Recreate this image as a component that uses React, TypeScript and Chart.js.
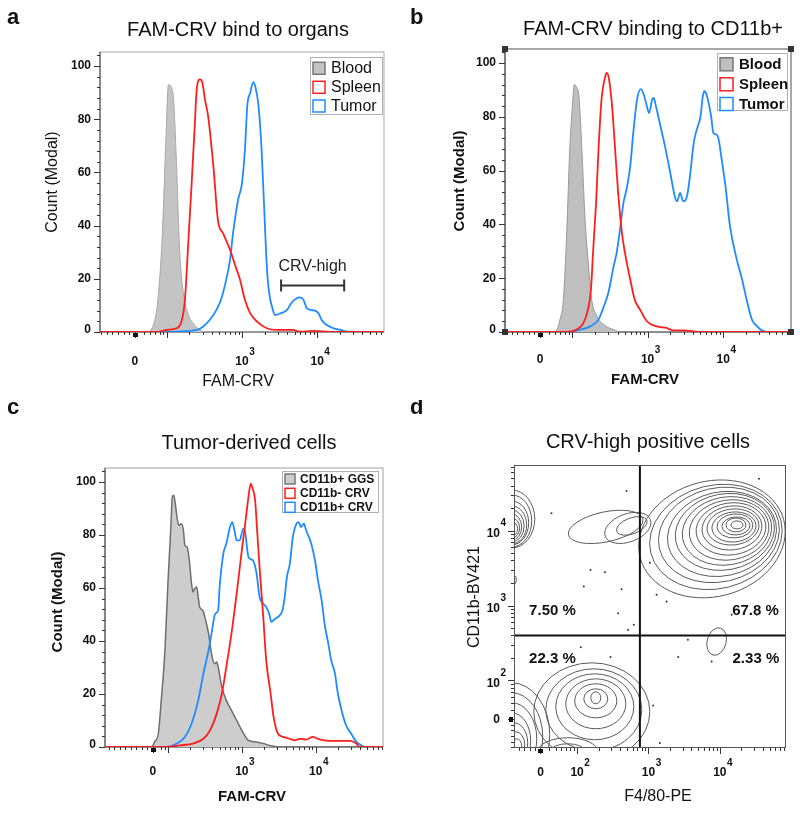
import React, { useEffect, useRef } from 'react';
import { Chart, registerables } from 'chart.js';

Chart.register(...registerables);

const FONT = '"Liberation Sans", Arial, Helvetica, sans-serif';
const RED = '#ff1e1e';
const BLUE = '#1e8cff';

// ---------------- Panel a: FAM-CRV bind to organs ----------------
const aBloodX = [1.11, 1.73, 1.82, 1.88, 1.94, 1.99, 2.02, 2.06, 2.09, 2.13, 2.17, 2.22, 2.28, 2.35, 2.44, 2.53, 4.89];
const aBloodY = [0, 0, 2.6, 12, 37, 75, 93, 92, 87, 62, 31, 14.6, 7, 3.3, 0.8, 0, 0];
const aSpleenX = [1.11, 1.88, 2.0, 2.13, 2.2, 2.24, 2.28, 2.33, 2.37, 2.4, 2.44, 2.47, 2.51, 2.55, 2.62, 2.68, 2.75, 2.84, 2.91, 2.97, 3.04, 3.11, 3.2, 3.33, 3.46, 3.68, 3.77, 3.95, 4.22, 4.89];
const aSpleenY = [0, 0, 0.8, 1.4, 4.5, 12, 31, 56, 77, 92, 95, 94, 87, 81, 62, 42, 37, 31, 25, 20, 12, 7, 3.9, 1.4, 0.8, 0.8, 0.1, 0.4, 0, 0];
const aTumorX = [1.11, 1.91, 2.4, 2.48, 2.57, 2.66, 2.73, 2.8, 2.84, 2.88, 2.92, 2.95, 3.0, 3.04, 3.07, 3.11, 3.15, 3.18, 3.22, 3.26, 3.29, 3.33, 3.36, 3.4, 3.44, 3.51, 3.6, 3.66, 3.73, 3.77, 3.82, 3.86, 3.91, 3.97, 4.02, 4.06, 4.13, 4.22, 4.31, 4.4, 4.89];
const aTumorY = [0, 0, 0.8, 2, 4.5, 8.3, 13, 21, 27, 37, 45, 50, 56, 69, 85, 90, 94, 92, 85, 69, 50, 25, 15, 9.5, 6.4, 7, 8.3, 11, 12.7, 13, 12, 9, 8.3, 8, 7, 4.5, 2.6, 1.4, 0.8, 0.1, 0];
const aGateRange = [3.52, 4.36];
const aGateCount = 17.5;
const aGateLabel = 'CRV-high';
const aGateLabelCount = 24.6;

// ---------------- Panel b: FAM-CRV binding to CD11b+ ----------------
const bBloodX = [1.113, 1.775, 1.84, 1.885, 1.93, 1.97, 2.01, 2.03, 2.06, 2.09, 2.13, 2.17, 2.22, 2.26, 2.33, 2.42, 2.55, 2.64, 4.897];
const bBloodY = [0, 0, 4.6, 12, 37, 68, 86, 92, 91, 88, 68, 43, 24, 12, 5.8, 2.7, 0.9, 0, 0];
const bSpleenX = [1.113, 1.93, 2.06, 2.15, 2.21, 2.25, 2.28, 2.32, 2.35, 2.39, 2.44, 2.46, 2.49, 2.53, 2.57, 2.61, 2.66, 2.7, 2.77, 2.83, 2.9, 2.99, 3.12, 3.25, 3.34, 3.47, 3.61, 3.7, 4.897];
const bSpleenY = [0, 0, 0.9, 3.3, 8.3, 15.7, 30.6, 49.2, 67.8, 86.4, 95, 96.3, 93.8, 83.9, 67.8, 51.7, 36.8, 29.4, 19.5, 12, 8.3, 4, 2.1, 1.5, 0.6, 0.6, 0.25, 0, 0];
const bTumorX = [1.113, 1.93, 2.11, 2.24, 2.35, 2.42, 2.48, 2.55, 2.59, 2.64, 2.68, 2.72, 2.77, 2.81, 2.86, 2.91, 2.95, 2.99, 3.02, 3.06, 3.08, 3.11, 3.17, 3.23, 3.3, 3.36, 3.39, 3.43, 3.47, 3.52, 3.56, 3.61, 3.65, 3.7, 3.73, 3.75, 3.78, 3.84, 3.87, 3.91, 3.94, 3.98, 4.03, 4.09, 4.18, 4.25, 4.31, 4.38, 4.45, 4.51, 4.58, 4.897];
const bTumorY = [0, 0, 0.9, 2.1, 4.6, 9.5, 14.5, 24.4, 29.4, 39.3, 48, 52.9, 61.6, 74, 86.4, 90.3, 88.2, 83.9, 81.4, 86.4, 87, 83.9, 76.5, 69, 59.1, 50.4, 48.6, 51.7, 48.6, 50.4, 57.9, 70.3, 75.2, 80.2, 87.6, 89.5, 88.2, 80.2, 74, 73.4, 71.5, 64.1, 54.2, 39.3, 26.9, 19.5, 12, 4.6, 2.1, 0.6, 0, 0];

// ---------------- Panel c: Tumor-derived cells ----------------
const cGgsX = [1.149, 1.78, 1.82, 1.87, 1.91, 1.96, 2.0, 2.04, 2.06, 2.08, 2.1, 2.13, 2.15, 2.18, 2.21, 2.23, 2.26, 2.29, 2.32, 2.34, 2.36, 2.39, 2.41, 2.43, 2.47, 2.5, 2.55, 2.59, 2.63, 2.66, 2.68, 2.73, 2.79, 2.86, 2.93, 3.0, 3.09, 3.2, 3.29, 3.38, 3.51, 4.91];
const cGgsY = [0, 0, 1.9, 5, 17.6, 36.5, 61.6, 83, 94.3, 95, 91.8, 85.5, 83.6, 84.3, 81.8, 76.1, 75.5, 70.4, 61.6, 58.5, 59.7, 60.4, 56.6, 52.8, 51.6, 49.1, 42.8, 35.2, 31.4, 32.1, 30.2, 22.6, 17.6, 13.8, 10.1, 6.3, 2.5, 1.9, 1.3, 0.6, 0, 0];
const cNegX = [1.149, 1.98, 2.16, 2.34, 2.48, 2.57, 2.66, 2.73, 2.79, 2.86, 2.93, 3.0, 3.04, 3.09, 3.12, 3.14, 3.18, 3.21, 3.24, 3.29, 3.33, 3.39, 3.43, 3.49, 3.56, 3.65, 3.72, 3.78, 3.87, 3.96, 4.03, 4.12, 4.23, 4.46, 4.55, 4.59, 4.91];
const cNegY = [0, 0, 0.6, 1.3, 3.1, 6.3, 12.6, 20.1, 30.2, 42.8, 57.9, 74.2, 83, 94.3, 99.4, 98.1, 93.1, 80.5, 67.9, 49.1, 32.7, 20.1, 11.3, 5, 3.8, 3.1, 2.5, 3.1, 2.8, 3.8, 3.1, 2.5, 2.3, 2.3, 1.3, 0, 0];
const cPosX = [1.149, 1.98, 2.12, 2.23, 2.32, 2.41, 2.48, 2.55, 2.59, 2.64, 2.68, 2.7, 2.75, 2.79, 2.84, 2.87, 2.9, 2.93, 2.97, 3.02, 3.04, 3.09, 3.15, 3.2, 3.24, 3.29, 3.33, 3.37, 3.4, 3.45, 3.49, 3.55, 3.58, 3.61, 3.65, 3.69, 3.74, 3.77, 3.8, 3.84, 3.87, 3.94, 3.99, 4.03, 4.08, 4.12, 4.17, 4.21, 4.26, 4.3, 4.35, 4.41, 4.48, 4.55, 4.62, 4.66, 4.91];
const cPosY = [0, 0, 1.3, 3.8, 8.8, 17.6, 27.7, 36.5, 42.8, 50.3, 51.6, 60.4, 73, 76.7, 83, 84.9, 81.8, 78, 78, 82.4, 81.8, 71.7, 70.4, 65.4, 56.6, 54.1, 52.8, 50.3, 47.2, 48.4, 49.1, 51.6, 56.6, 64.2, 69.2, 79.2, 84.3, 84.9, 83, 84.3, 81.8, 76.7, 70.4, 62.9, 55.3, 46.5, 39, 32.7, 27.7, 20.1, 13.8, 8.2, 5, 1.9, 0.6, 0, 0];

// ---------------- shared tick labels ----------------
const countTicks = [0, 20, 40, 60, 80, 100];
const histDecades = [3, 4];
const dDecades = [2, 3, 4];

// ---------------- Panel d: CRV-high positive cells ----------------
// contour rings: [centre F4/80, centre CD11b, radius F4/80, radius CD11b, tilt deg]
type Ring = [number, number, number, number, number];
const dMainRings: Ring[] = [
  [3.89, 3.89, 1.04, 0.77, -15], [3.945, 3.916, 0.94, 0.69, -14], [3.987, 3.943, 0.856, 0.627, -13],
  [4.03, 3.956, 0.771, 0.56, -12], [4.07, 3.983, 0.7, 0.507, -11], [4.1, 3.996, 0.631, 0.453, -10],
  [4.13, 4.009, 0.561, 0.4, -9], [4.156, 4.023, 0.491, 0.347, -8], [4.17, 4.036, 0.421, 0.293, -7],
  [4.184, 4.049, 0.365, 0.24, -6], [4.198, 4.049, 0.309, 0.2, -5], [4.212, 4.063, 0.252, 0.16, -4],
  [4.226, 4.063, 0.196, 0.12, -3], [4.226, 4.076, 0.14, 0.093, 0], [4.24, 4.076, 0.084, 0.053, 0],
];
const dTailRings: Ring[] = [
  [2.4, 4.05, 0.533, 0.2, -12], [2.711, 4.036, 0.337, 0.187, -20], [2.767, 4.063, 0.224, 0.107, -20],
];
const dUpperLeftRings: Ring[] = [
  [1.084, 4.156, 0.323, 0.387, 0], [1.084, 4.129, 0.28, 0.347, 0], [1.084, 4.103, 0.238, 0.293, 0],
  [1.084, 4.076, 0.21, 0.253, 0], [1.084, 4.063, 0.175, 0.213, 0], [1.084, 4.049, 0.14, 0.173, 0],
  [1.084, 4.036, 0.112, 0.133, 0], [1.084, 4.023, 0.084, 0.093, 0], [1.098, 3.343, 0.05, 0.07, 0],
];
const dLowerRightRings: Ring[] = [[3.955, 2.52, 0.133, 0.187, 15]];
const dLowerLeftRings: Ring[] = [
  [2.206, 1.583, 0.813, 0.653, 0], [2.234, 1.609, 0.673, 0.547, 0], [2.248, 1.649, 0.547, 0.44, 0],
  [2.262, 1.689, 0.421, 0.333, 0], [2.262, 1.729, 0.295, 0.227, 0], [2.262, 1.756, 0.168, 0.133, 0],
  [2.262, 1.769, 0.07, 0.08, 0],
  [1.084, 1.276, 0.533, 0.693, 0], [1.084, 1.249, 0.435, 0.587, 0], [1.084, 1.223, 0.351, 0.48, 0],
  [1.084, 1.196, 0.266, 0.373, 0], [1.112, 1.169, 0.196, 0.267, 0], [1.14, 1.143, 0.126, 0.173, 0],
  [1.154, 1.129, 0.07, 0.093, 0],
  [1.87, 1.049, 0.42, 0.187, 0], [1.87, 1.049, 0.25, 0.107, 0],
];
const dDotsX = [2.693, 1.641, 2.188, 2.389, 2.094, 2.623, 2.575, 2.715, 2.795, 3.02, 3.114, 3.254, 4.166, 4.516, 4.548, 3.553, 2.052, 2.468, 3.417, 3.885, 3.066, 3.16];
const dDotsY = [4.529, 4.232, 3.476, 3.445, 3.253, 3.219, 2.899, 2.676, 2.743, 3.573, 3.143, 3.053, 2.876, 2.876, 4.693, 2.543, 2.445, 2.312, 2.312, 2.253, 1.667, 1.165];
const dGateX = 2.88;
const dGateY = 2.6;
const dQuadLabels = ['7.50 %', '67.8 %', '22.3 %', '2.33 %'];
const dQuadX = [1.655, 4.5, 1.655, 4.505];
const dQuadY = [2.933, 2.933, 2.285, 2.285];

// ---------------- helpers ----------------
const zip = (xs: number[], ys: number[]) => xs.map((x, i) => ({ x, y: ys[i] }));

function seg(ctx: CanvasRenderingContext2D, x1: number, y1: number, x2: number, y2: number) {
  ctx.beginPath();
  ctx.moveTo(x1, y1);
  ctx.lineTo(x2, y2);
  ctx.stroke();
}

function supLabel(ctx: CanvasRenderingContext2D, x: number, y: number, base: string, sup: string, align: 'center' | 'right') {
  ctx.font = `bold 12px ${FONT}`;
  const bw = ctx.measureText(base).width;
  const bx = align === 'center' ? x - bw / 2 : x - bw;
  ctx.textAlign = 'left';
  ctx.textBaseline = 'middle';
  ctx.fillText(base, bx, y);
  ctx.font = `bold 10px ${FONT}`;
  ctx.fillText(sup, bx + bw + 0.5, y - 10);
}

function xTicks(ctx: CanvasRenderingContext2D, xs: any, area: any, zero: number, min: number, max: number, labelY: number, decades: number[]) {
  ctx.strokeStyle = '#333';
  ctx.lineWidth = 1;
  const y0 = area.bottom;
  const px = (u: number) => Math.round(xs.getPixelForValue(u)) + 0.5;
  [zero, 2, 3, 4].forEach((u) => seg(ctx, px(u), y0, px(u), y0 + 6));
  for (let d = 1; d <= 4; d++) {
    for (let k = 2; k <= 9; k++) {
      const u = d + Math.log10(k);
      if (u > zero + 0.05 && u < max) seg(ctx, px(u), y0, px(u), y0 + 3);
    }
  }
  for (let i = 1; i < 12; i++) {
    const u = zero - 0.075 * i;
    if (u > min) seg(ctx, px(u), y0, px(u), y0 + 3);
  }
  ctx.fillStyle = '#111';
  ctx.fillRect(px(zero) - 2.5, y0 + 1, 5, 4);
  ctx.fillStyle = '#111';
  ctx.font = `bold 12px ${FONT}`;
  ctx.textAlign = 'center';
  ctx.textBaseline = 'middle';
  ctx.fillText('0', xs.getPixelForValue(zero), labelY);
  decades.forEach((d) => supLabel(ctx, xs.getPixelForValue(d), labelY, '10', String(d), 'center'));
}

// ---------------- histogram panels ----------------
type Series = { label: string; xs: number[]; ys: number[]; line: string; fill?: string; width: number; order: number };
type HistCfg = {
  letter: string; letterX: number; letterY: number;
  title: string; titleX: number; titleY: number;
  xTitle: string; xTitleX: number; xTitleY: number;
  yTitle: string; yTitleX: number; yTitleY: number;
  titleBold: boolean; titleSize: number;
  pad: { left: number; top: number; right: number; bottom: number };
  xMin: number; xMax: number; yMax: number; zero: number; xLabelY: number;
  frame: string; axis: string; frameWidth: number; corners: boolean;
  legend: { x: number; y: number; w: number; h: number; rows: number[]; swX: number; sw: number; textX: number; font: string };
  series: Series[];
  gate?: boolean;
};

const panelA: HistCfg = {
  letter: 'a', letterX: 7, letterY: 24,
  title: 'FAM-CRV bind to organs', titleX: 238, titleY: 36,
  xTitle: 'FAM-CRV', xTitleX: 238, xTitleY: 382,
  yTitle: 'Count (Modal)', yTitleX: 53, yTitleY: 182,
  titleBold: false, titleSize: 16,
  pad: { left: 100, top: 52, right: 16, bottom: 68 },
  xMin: 1.11, xMax: 4.89, yMax: 105.3, zero: 1.573, xLabelY: 362,
  frame: '#a8a8a8', axis: '#555', frameWidth: 1, corners: false,
  legend: { x: 310, y: 57, w: 72, h: 57, rows: [68.3, 87.3, 106], swX: 313, sw: 12, textX: 331, font: `16px ${FONT}` },
  series: [
    { label: 'Blood', xs: aBloodX, ys: aBloodY, line: '#a9a9a9', fill: '#c4c4c4', width: 1, order: 3 },
    { label: 'Spleen', xs: aSpleenX, ys: aSpleenY, line: RED, width: 1.8, order: 1 },
    { label: 'Tumor', xs: aTumorX, ys: aTumorY, line: BLUE, width: 1.8, order: 2 },
  ],
  gate: true,
};

const panelB: HistCfg = {
  letter: 'b', letterX: 10, letterY: 24,
  title: 'FAM-CRV binding to CD11b+', titleX: 253, titleY: 35,
  xTitle: 'FAM-CRV', xTitleX: 245, xTitleY: 380,
  yTitle: 'Count (Modal)', yTitleX: 60, yTitleY: 181,
  titleBold: true, titleSize: 15,
  pad: { left: 105, top: 49, right: 9, bottom: 68 },
  xMin: 1.113, xMax: 4.897, yMax: 105.2, zero: 1.576, xLabelY: 360,
  frame: '#8a8a8a', axis: '#666', frameWidth: 1.5, corners: true,
  legend: { x: 317, y: 53, w: 70, h: 57, rows: [64.3, 84.3, 104], swX: 320, sw: 13, textX: 339, font: `bold 15px ${FONT}` },
  series: [
    { label: 'Blood', xs: bBloodX, ys: bBloodY, line: '#9a9a9a', fill: '#bfbfbf', width: 1, order: 3 },
    { label: 'Spleen', xs: bSpleenX, ys: bSpleenY, line: RED, width: 1.8, order: 1 },
    { label: 'Tumor', xs: bTumorX, ys: bTumorY, line: BLUE, width: 1.8, order: 2 },
  ],
};

const panelC: HistCfg = {
  letter: 'c', letterX: 7, letterY: 14,
  title: 'Tumor-derived cells', titleX: 249, titleY: 49,
  xTitle: 'FAM-CRV', xTitleX: 252, xTitleY: 397,
  yTitle: 'Count (Modal)', yTitleX: 58, yTitleY: 202,
  titleBold: true, titleSize: 15,
  pad: { left: 105, top: 68, right: 17, bottom: 66 },
  xMin: 1.149, xMax: 4.91, yMax: 105.3, zero: 1.797, xLabelY: 372,
  frame: '#a0a0a0', axis: '#555', frameWidth: 1, corners: false,
  legend: { x: 282, y: 71, w: 96, h: 41, rows: [79, 93.3, 107.3], swX: 285, sw: 10, textX: 300, font: `bold 12px ${FONT}` },
  series: [
    { label: 'CD11b+ GGS', xs: cGgsX, ys: cGgsY, line: '#6e6e6e', fill: '#cdcdcd', width: 1.5, order: 3 },
    { label: 'CD11b- CRV', xs: cNegX, ys: cNegY, line: RED, width: 1.8, order: 1 },
    { label: 'CD11b+ CRV', xs: cPosX, ys: cPosY, line: BLUE, width: 1.8, order: 2 },
  ],
};

function histDecor(cfg: HistCfg) {
  return {
    id: 'decor',
    beforeDatasetsDraw(chart: any) {
      const ctx = chart.ctx as CanvasRenderingContext2D;
      const a = chart.chartArea;
      ctx.save();
      ctx.lineWidth = cfg.frameWidth;
      ctx.strokeStyle = cfg.frame;
      ctx.strokeRect(a.left, a.top, a.right - a.left, a.bottom - a.top);
      ctx.strokeStyle = cfg.axis;
      ctx.lineWidth = 1.2;
      seg(ctx, a.left, a.top, a.left, a.bottom);
      seg(ctx, a.left, a.bottom, a.right, a.bottom);
      ctx.restore();
    },
    afterDraw(chart: any) {
      const ctx = chart.ctx as CanvasRenderingContext2D;
      const a = chart.chartArea;
      const xs = chart.scales.x;
      const ys = chart.scales.y;
      ctx.save();
      // y ticks
      ctx.strokeStyle = '#333';
      ctx.lineWidth = 1;
      for (let v = 0; v <= cfg.yMax; v += 4) {
        const y = Math.round(ys.getPixelForValue(v)) + 0.5;
        const len = v % 20 === 0 ? 6 : 3;
        seg(ctx, a.left - len, y, a.left, y);
      }
      ctx.fillStyle = '#111';
      ctx.font = `bold 12px ${FONT}`;
      ctx.textAlign = 'right';
      ctx.textBaseline = 'middle';
      countTicks.forEach((v) => ctx.fillText(String(v), a.left - 9, ys.getPixelForValue(v) - (v === 0 ? 2 : 0)));
      // x ticks
      xTicks(ctx, xs, a, cfg.zero, cfg.xMin, cfg.xMax, cfg.xLabelY, histDecades);
      // corners
      if (cfg.corners) {
        ctx.fillStyle = '#333';
        [[a.left, a.top], [a.right, a.top], [a.left, a.bottom], [a.right, a.bottom]].forEach(([x, y]) => ctx.fillRect(x - 3, y - 3, 6, 6));
      }
      // gate
      if (cfg.gate) {
        const x1 = xs.getPixelForValue(aGateRange[0]);
        const x2 = xs.getPixelForValue(aGateRange[1]);
        const y = ys.getPixelForValue(aGateCount);
        ctx.strokeStyle = '#333';
        ctx.lineWidth = 2;
        seg(ctx, x1, y, x2, y);
        seg(ctx, x1, y - 6, x1, y + 6);
        seg(ctx, x2, y - 6, x2, y + 6);
        ctx.fillStyle = '#222';
        ctx.font = `16px ${FONT}`;
        ctx.textAlign = 'center';
        ctx.textBaseline = 'middle';
        ctx.fillText(aGateLabel, (x1 + x2) / 2, ys.getPixelForValue(aGateLabelCount));
      }
      // legend
      const L = cfg.legend;
      ctx.fillStyle = '#fff';
      ctx.fillRect(L.x, L.y, L.w, L.h);
      ctx.strokeStyle = '#b0b0b0';
      ctx.lineWidth = 1;
      ctx.strokeRect(L.x + 0.5, L.y + 0.5, L.w, L.h);
      cfg.series.forEach((s, i) => {
        const cy = L.rows[i];
        ctx.fillStyle = s.fill ?? '#fff';
        ctx.fillRect(L.swX, cy - L.sw / 2, L.sw, L.sw);
        ctx.strokeStyle = s.fill ? '#777' : s.line;
        ctx.lineWidth = 1.5;
        ctx.strokeRect(L.swX, cy - L.sw / 2, L.sw, L.sw);
        ctx.fillStyle = '#111';
        ctx.font = L.font;
        ctx.textAlign = 'left';
        ctx.textBaseline = 'middle';
        ctx.fillText(s.label, L.textX, cy + 0.5);
      });
      // titles
      ctx.fillStyle = '#111';
      ctx.font = `bold 22px ${FONT}`;
      ctx.textAlign = 'left';
      ctx.textBaseline = 'alphabetic';
      ctx.fillText(cfg.letter, cfg.letterX, cfg.letterY);
      ctx.font = `20px ${FONT}`;
      ctx.textAlign = 'center';
      ctx.fillText(cfg.title, cfg.titleX, cfg.titleY);
      ctx.font = `${cfg.titleBold ? 'bold ' : ''}${cfg.titleSize}px ${FONT}`;
      ctx.textBaseline = 'middle';
      ctx.fillText(cfg.xTitle, cfg.xTitleX, cfg.xTitleY);
      ctx.translate(cfg.yTitleX, cfg.yTitleY);
      ctx.rotate(-Math.PI / 2);
      ctx.fillText(cfg.yTitle, 0, 0);
      ctx.restore();
    },
  };
}

function HistPanel({ cfg, left, top, width, height }: { cfg: HistCfg; left: number; top: number; width: number; height: number }) {
  const ref = useRef<HTMLCanvasElement>(null);
  useEffect(() => {
    const chart = new Chart(ref.current as HTMLCanvasElement, {
      type: 'line',
      data: {
        datasets: cfg.series.map((s) => ({
          label: s.label,
          data: zip(s.xs, s.ys),
          borderColor: s.line,
          backgroundColor: s.fill ?? 'rgba(0,0,0,0)',
          fill: s.fill ? 'origin' : false,
          borderWidth: s.width,
          pointRadius: 0,
          cubicInterpolationMode: 'monotone',
          order: s.order,
        })),
      } as any,
      options: {
        animation: false,
        responsive: false,
        maintainAspectRatio: false,
        layout: { padding: cfg.pad },
        plugins: { legend: { display: false }, tooltip: { enabled: false }, title: { display: false } },
        scales: {
          x: { type: 'linear', min: cfg.xMin, max: cfg.xMax, display: false },
          y: { type: 'linear', min: 0, max: cfg.yMax, display: false },
        },
      } as any,
      plugins: [histDecor(cfg) as any],
    });
    return () => chart.destroy();
  }, []);
  return <canvas ref={ref} width={width} height={height} style={{ position: 'absolute', left, top, width, height }} />;
}

// ---------------- contour panel ----------------
function ContourPanel({ left, top, width, height }: { left: number; top: number; width: number; height: number }) {
  const ref = useRef<HTMLCanvasElement>(null);
  useEffect(() => {
    const xMin = 1.116, xMax = 4.927, yMin = 1.099, yMax = 4.876;
    const xZero = 1.487, yZero = 1.485;
    const decor = {
      id: 'contours',
      beforeDatasetsDraw(chart: any) {
        const ctx = chart.ctx as CanvasRenderingContext2D;
        const a = chart.chartArea;
        const xs = chart.scales.x;
        const ys = chart.scales.y;
        ctx.save();
        ctx.beginPath();
        ctx.rect(a.left, a.top, a.right - a.left, a.bottom - a.top);
        ctx.clip();
        ctx.strokeStyle = '#5a5a5a';
        ctx.lineWidth = 1;
        [...dMainRings, ...dTailRings, ...dUpperLeftRings, ...dLowerRightRings, ...dLowerLeftRings].forEach(([u, v, ru, rv, rot]) => {
          const cx = xs.getPixelForValue(u);
          const cy = ys.getPixelForValue(v);
          const rx = Math.abs(xs.getPixelForValue(u + ru) - cx);
          const ry = Math.abs(ys.getPixelForValue(v + rv) - cy);
          ctx.beginPath();
          ctx.ellipse(cx, cy, rx, ry, (rot * Math.PI) / 180, 0, Math.PI * 2);
          ctx.stroke();
        });
        ctx.restore();
      },
      afterDatasetsDraw(chart: any) {
        const ctx = chart.ctx as CanvasRenderingContext2D;
        const a = chart.chartArea;
        const xs = chart.scales.x;
        const ys = chart.scales.y;
        ctx.save();
        ctx.strokeStyle = '#111';
        ctx.lineWidth = 2;
        const gx = xs.getPixelForValue(dGateX);
        const gy = ys.getPixelForValue(dGateY);
        seg(ctx, gx, a.top, gx, a.bottom);
        seg(ctx, a.left, gy, a.right, gy);
        ctx.fillStyle = '#111';
        ctx.font = `bold 15px ${FONT}`;
        ctx.textAlign = 'center';
        ctx.textBaseline = 'middle';
        dQuadLabels.forEach((t, i) => ctx.fillText(t, xs.getPixelForValue(dQuadX[i]), ys.getPixelForValue(dQuadY[i])));
        ctx.restore();
      },
      afterDraw(chart: any) {
        const ctx = chart.ctx as CanvasRenderingContext2D;
        const a = chart.chartArea;
        const xs = chart.scales.x;
        const ys = chart.scales.y;
        ctx.save();
        ctx.strokeStyle = '#555';
        ctx.lineWidth = 1;
        ctx.strokeRect(a.left + 0.5, a.top + 0.5, a.right - a.left - 1, a.bottom - a.top - 1);
        xTicks(ctx, xs, a, xZero, xMin, xMax, 373, dDecades);
        // y ticks
        ctx.strokeStyle = '#333';
        ctx.lineWidth = 1;
        const py = (v: number) => Math.round(ys.getPixelForValue(v)) + 0.5;
        [yZero, 2, 3, 4].forEach((v) => seg(ctx, a.left - 6, py(v), a.left, py(v)));
        for (let d = 1; d <= 4; d++) {
          for (let k = 2; k <= 9; k++) {
            const v = d + Math.log10(k);
            if (v > yZero + 0.05 && v < yMax) seg(ctx, a.left - 3, py(v), a.left, py(v));
          }
        }
        for (let i = 1; i < 8; i++) {
          const v = yZero - 0.075 * i;
          if (v > yMin) seg(ctx, a.left - 3, py(v), a.left, py(v));
        }
        ctx.fillStyle = '#111';
        ctx.fillRect(a.left - 5, py(yZero) - 2.5, 4, 5);
        ctx.font = `bold 12px ${FONT}`;
        ctx.textAlign = 'right';
        ctx.textBaseline = 'middle';
        ctx.fillText('0', a.left - 14, ys.getPixelForValue(yZero) + 1);
        dDecades.forEach((d) => supLabel(ctx, a.left - 14, ys.getPixelForValue(d) + 3, '10', String(d), 'right'));
        // texts
        ctx.fillStyle = '#111';
        ctx.font = `bold 22px ${FONT}`;
        ctx.textAlign = 'left';
        ctx.textBaseline = 'alphabetic';
        ctx.fillText('d', 10, 14);
        ctx.font = `20px ${FONT}`;
        ctx.textAlign = 'center';
        ctx.fillText('CRV-high positive cells', 248, 48);
        ctx.font = `16px ${FONT}`;
        ctx.textBaseline = 'middle';
        ctx.fillText('F4/80-PE', 258, 397);
        ctx.translate(75, 197);
        ctx.rotate(-Math.PI / 2);
        ctx.fillText('CD11b-BV421', 0, 0);
        ctx.restore();
      },
    };
    const chart = new Chart(ref.current as HTMLCanvasElement, {
      type: 'scatter',
      data: {
        datasets: [
          { label: 'events', data: zip(dDotsX, dDotsY), pointRadius: 1, pointBackgroundColor: '#333', pointBorderWidth: 0 },
        ],
      } as any,
      options: {
        animation: false,
        responsive: false,
        maintainAspectRatio: false,
        layout: { padding: { left: 114, top: 65, right: 14, bottom: 65 } },
        plugins: { legend: { display: false }, tooltip: { enabled: false } },
        scales: {
          x: { type: 'linear', min: xMin, max: xMax, display: false },
          y: { type: 'linear', min: yMin, max: yMax, display: false },
        },
      } as any,
      plugins: [decor as any],
    });
    return () => chart.destroy();
  }, []);
  return <canvas ref={ref} width={width} height={height} style={{ position: 'absolute', left, top, width, height }} />;
}

export default function App() {
  return (
    <div style={{ position: 'absolute', left: 0, top: 0, width: 800, height: 813, background: '#fff', overflow: 'hidden' }}>
      <HistPanel cfg={panelA} left={0} top={0} width={400} height={400} />
      <HistPanel cfg={panelB} left={400} top={0} width={400} height={400} />
      <HistPanel cfg={panelC} left={0} top={400} width={400} height={413} />
      <ContourPanel left={400} top={400} width={400} height={413} />
    </div>
  );
}
